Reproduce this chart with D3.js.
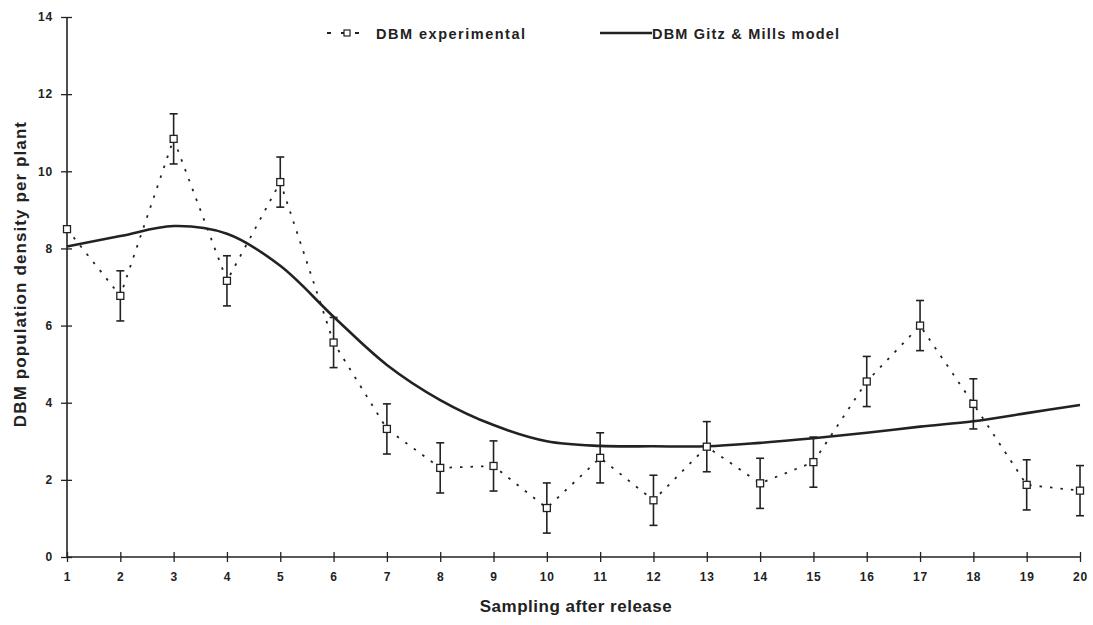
<!DOCTYPE html>
<html><head><meta charset="utf-8">
<script src="https://cdn.jsdelivr.net/npm/d3@7"></script>
<style>
body{margin:0;background:#fff;}
text{font-family:"Liberation Sans",Arial,sans-serif;fill:#222;}
</style></head>
<body><svg id="c" width="1093" height="625"></svg>
<script>
const samples = [1,2,3,4,5,6,7,8,9,10,11,12,13,14,15,16,17,18,19,20];
const experimental = [8.5,6.77,10.84,7.16,9.72,5.56,3.32,2.31,2.36,1.27,2.57,1.47,2.86,1.91,2.46,4.55,6.0,3.97,1.87,1.72];
const errors = [0,0.65,0.65,0.65,0.65,0.65,0.65,0.65,0.65,0.65,0.65,0.65,0.65,0.65,0.65,0.65,0.65,0.65,0.65,0.65];
const model = [8.05,8.32,8.58,8.38,7.55,6.23,4.98,4.07,3.42,3.0,2.88,2.87,2.87,2.96,3.08,3.22,3.38,3.52,3.73,3.94];
const yTicks = [0,2,4,6,8,10,12,14];
const seriesNames = ["DBM experimental","DBM Gitz & Mills model"];
const xTitle = "Sampling after release";
const yTitle = "DBM population density per plant";

const svg = d3.select("#c");
const ink = "#222";
const x = d3.scaleLinear().domain([1,20]).range([67,1080]);
const y = d3.scaleLinear().domain([0,14]).range([557,17]);

// axes
const gx = svg.append("g").attr("transform","translate(0,557)")
  .call(d3.axisBottom(x).tickValues(samples).tickFormat(d3.format("d")).tickSize(5).tickPadding(10));
gx.selectAll(".tick line").attr("y1",-5).attr("y2",5);
const gy = svg.append("g").attr("transform","translate(67,0)")
  .call(d3.axisLeft(y).tickValues(yTicks).tickSize(6).tickPadding(8));
gy.selectAll(".tick line").attr("x1",-6).attr("x2",5);
[gx,gy].forEach(g=>{
  g.select(".domain").attr("stroke",ink).attr("stroke-width",1.6);
  g.selectAll(".tick line").attr("stroke",ink).attr("stroke-width",1.3);
  g.selectAll(".tick text").style("font-size","12px").style("font-weight","bold")
    .style("letter-spacing","0.8px").attr("fill","#333");
});
gx.select(".domain").attr("d","M67,0H1080");
gy.select(".domain").attr("d","M0,17V557");

// titles
svg.append("text").attr("x",576).attr("y",612).attr("text-anchor","middle")
  .style("font-size","17px").style("font-weight","bold").style("letter-spacing","0.5px").text(xTitle);
svg.append("text").attr("transform","translate(26,274) rotate(-90)").attr("text-anchor","middle")
  .style("font-size","17px").style("font-weight","bold").style("letter-spacing","1.1px").text(yTitle);

// model line
svg.append("path").datum(samples.map((s,i)=>[s,model[i]]))
  .attr("fill","none").attr("stroke",ink).attr("stroke-width",2.6)
  .attr("d",d3.line().x(d=>x(d[0])).y(d=>y(d[1])).curve(d3.curveCatmullRom.alpha(0.5)));

// experimental dashed line
svg.append("path").datum(samples.map((s,i)=>[s,experimental[i]]))
  .attr("fill","none").attr("stroke",ink).attr("stroke-width",1.8).attr("stroke-dasharray","2.5,8")
  .attr("d",d3.line().x(d=>x(d[0])).y(d=>y(d[1])));

// error bars
const eb = svg.append("g").attr("stroke",ink).attr("stroke-width",1.6);
samples.forEach((s,i)=>{
  if(!errors[i]) return;
  const cx = x(s), t = y(experimental[i]+errors[i]), b = y(experimental[i]-errors[i]);
  eb.append("line").attr("x1",cx).attr("x2",cx).attr("y1",t).attr("y2",b);
  eb.append("line").attr("x1",cx-4).attr("x2",cx+4).attr("y1",t).attr("y2",t);
  eb.append("line").attr("x1",cx-4).attr("x2",cx+4).attr("y1",b).attr("y2",b);
});
// markers
svg.append("g").selectAll("rect").data(samples).join("rect")
  .attr("x",(d)=>x(d)-3.5).attr("y",(d,i)=>y(experimental[i])-3.5)
  .attr("width",7).attr("height",7).attr("fill","#fff").attr("stroke",ink).attr("stroke-width",1.3);

// legend
const lg = svg.append("g");
lg.append("line").attr("x1",327).attr("x2",366).attr("y1",33).attr("y2",33)
  .attr("stroke",ink).attr("stroke-width",1.8).attr("stroke-dasharray","4,10");
lg.append("rect").attr("x",344).attr("y",30).attr("width",6).attr("height",6)
  .attr("fill","#fff").attr("stroke",ink).attr("stroke-width",1.2);
lg.append("text").attr("x",376).attr("y",38.5).style("font-size","14.5px").style("font-weight","bold")
  .style("letter-spacing","1.5px").text(seriesNames[0]);
lg.append("line").attr("x1",600).attr("x2",652).attr("y1",33).attr("y2",33)
  .attr("stroke",ink).attr("stroke-width",2.6);
lg.append("text").attr("x",652).attr("y",38.5).style("font-size","14.5px").style("font-weight","bold")
  .style("letter-spacing","1.2px").text(seriesNames[1]);
</script></body></html>
